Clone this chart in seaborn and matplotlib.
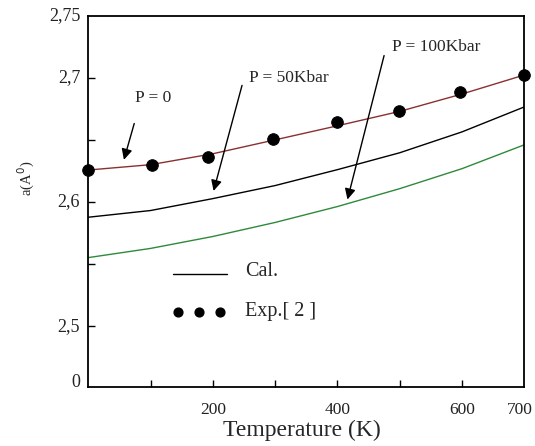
import matplotlib
matplotlib.use("Agg")
import matplotlib.pyplot as plt
import seaborn as sns
import pandas as pd

# ---- data ----
temp_calc = [0, 100, 200, 300, 400, 500, 600, 700]
a_p0 = [2.6257, 2.6300, 2.6388, 2.6500, 2.6613, 2.6729, 2.6869, 2.7022]
a_p50 = [2.5877, 2.5931, 2.6027, 2.6132, 2.6260, 2.6396, 2.6564, 2.6765]
a_p100 = [2.5552, 2.5626, 2.5722, 2.5835, 2.5963, 2.6107, 2.6268, 2.6460]

temp_exp = [0, 102, 192, 297, 399, 499, 597, 700]
a_exp = [2.6257, 2.6297, 2.6358, 2.6503, 2.6642, 2.6733, 2.6885, 2.7020]

y_tick_vals = [2.4513, 2.5, 2.6, 2.7, 2.75]
y_tick_labels = ["0", "2,5", "2,6", "2,7", "2,75"]
x_tick_vals = [200, 400, 600, 700]
x_tick_labels = ["200", "400", "600", "700"]

sns.set_style("ticks")
plt.rcParams["font.family"] = ["Liberation Serif", "DejaVu Serif"]

fig = plt.figure(figsize=(5.35, 4.46), dpi=100)
ax = fig.add_axes([0.165, 0.133, 0.815, 0.832])

df = pd.DataFrame({
    "T": temp_calc * 3,
    "a": a_p0 + a_p50 + a_p100,
    "series": ["P = 0"] * 8 + ["P = 50Kbar"] * 8 + ["P = 100Kbar"] * 8,
})
palette = {"P = 0": "#8a3030", "P = 50Kbar": "#000000", "P = 100Kbar": "#2e8a3a"}
sns.lineplot(data=df, x="T", y="a", hue="series", palette=palette, ax=ax,
             linewidth=1.0, legend=False)
sns.scatterplot(x=temp_exp, y=a_exp, color="black", s=70, edgecolor="black",
                ax=ax, legend=False, zorder=5, clip_on=False)

ax.set_xlim(0, 700)
ax.set_ylim(2.4513, 2.75)
ax.set_xticks([100, 200, 300, 400, 500, 600])
ax.set_xticklabels([])
for v, l in zip(x_tick_vals, x_tick_labels):
    xpos = v - 7 if l == "700" else v
    ax.text(xpos, 2.4513 - 0.019, l, ha="center", va="center", fontsize=12.5, color="#222")
ax.set_yticks([2.5, 2.55, 2.6, 2.65, 2.7])
ax.set_yticklabels([])
for v, l in zip(y_tick_vals, y_tick_labels):
    ax.text(-13, v + (0.003 if l == "0" else 0), l, ha="right", va="center",
            fontsize=13, color="#222")
ax.tick_params(direction="in", length=5, width=1, color="black")
for s in ax.spines.values():
    s.set_linewidth(1.3)
    s.set_color("black")

ax.set_xlabel("")
ax.set_ylabel("")
fig.text(0.565, 0.035, "Temperature (K)", ha="center", va="center", fontsize=17)
fig.text(0.05, 0.6, "a(A$^0$)", ha="center", va="center", rotation=90, fontsize=10.5)

# annotations
arrow = dict(arrowstyle="-|>", color="black", lw=1.0, mutation_scale=16)
ax.annotate("", xy=(56, 2.6318), xytext=(75, 2.6653), arrowprops=arrow)
ax.text(104, 2.6837, "P = 0", ha="center", va="center", fontsize=12.5)
ax.annotate("", xy=(200, 2.6067), xytext=(248, 2.696), arrowprops=arrow)
ax.text(258, 2.6998, "P = 50Kbar", ha="left", va="center", fontsize=12.5)
ax.annotate("", xy=(415, 2.5998), xytext=(476, 2.720), arrowprops=arrow)
ax.text(487, 2.7246, "P = 100Kbar", ha="left", va="center", fontsize=12.5)

# hand-drawn legend inside axes
ax.plot([136, 222], [2.5422, 2.5422], color="black", lw=1.0)
ax.text(252, 2.5437, "Cal.", ha="left", va="center", fontsize=14.5)
ax.scatter([144, 177, 212], [2.5117, 2.5117, 2.5117], color="black", s=40)
ax.text(252, 2.5117, "Exp.[ 2 ]", ha="left", va="center", fontsize=14.5)

fig.savefig("out.png", dpi=100, facecolor="white")
